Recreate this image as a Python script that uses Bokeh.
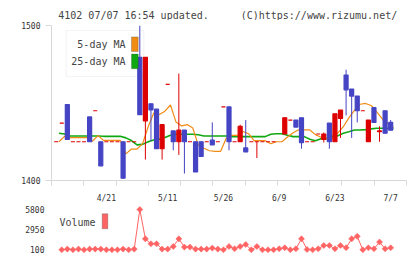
import numpy as np
from bokeh.plotting import figure
from bokeh.models import Range1d, FixedTicker, Label, BoxAnnotation, ColumnDataSource
from bokeh.layouts import column
from bokeh.embed import file_html
from bokeh.resources import INLINE
from bokeh.core.properties import value

nan = float("nan")

# Daily prices, oldest first (one row per trading day)
opens = [1425, 1437, 1449, 1425, 1425, 1425, 1441, 1445, 1425, 1425,
         1425, 1425, 1425, 1425, 1425, 1479.5, 1438.5, 1449.5, 1446, 1420.5,
         1462, 1432, 1425, 1432.5, 1425, 1425, 1425, 1425, 1426, 1425,
         1447.5, 1447.5, 1425, 1425, 1421, 1425, 1425, 1425, 1425, 1425,
         nan, 1430, 1439, 1439, 1440.5, 1425, 1425, 1430, 1426.5, 1437,
         1425, 1440, 1468, 1459, 1454.5, 1445, 1425, 1447, 1431.5, 1445,
         1437.5]
highs = [1425, 1437, 1449, 1425, 1425, 1425, 1441, 1445, 1425, 1425,
         1425, 1425, 1425, 1425, 1425, 1500, 1479.5, 1449.5, 1446, 1436,
         1462, 1432, 1469, 1432.5, 1425, 1425, 1425, 1425, 1437.5, 1425,
         1447.5, 1447.5, 1425, 1436, 1439, 1425, 1425, 1425, 1425, 1425,
         nan, 1440.5, 1439, 1439, 1440.5, 1425, 1425, 1430, 1431, 1437,
         1443, 1445.5, 1471.5, 1459, 1454.5, 1445, 1439, 1447, 1435, 1445,
         1439]
lows = [1425, 1437, 1426.5, 1425, 1425, 1425, 1425, 1445, 1409.5, 1425,
        1425, 1425, 1401.5, 1425, 1425, 1442.5, 1413.5, 1425.5, 1420.5, 1413.5,
        1462, 1419.5, 1416.5, 1404.5, 1425, 1405.5, 1415.5, 1425, 1423, 1425,
        1447.5, 1419.5, 1425, 1425, 1418.5, 1425, 1414.5, 1425, 1425, 1425,
        nan, 1430, 1439, 1434.5, 1420.5, 1425, 1425, 1430, 1424.5, 1420.5,
        1425, 1427.5, 1442, 1427.5, 1437.5, 1445, 1425, 1437.5, 1425, 1430.5,
        1432.5]
closes = [1425, 1437, 1426.5, 1425, 1425, 1425, 1425, 1445, 1409.5, 1425,
          1425, 1425, 1401.5, 1425, 1425, 1442.5, 1479.5, 1445.5, 1420.5, 1436,
          1462, 1425, 1432.5, 1425, 1425, 1405.5, 1415.5, 1425, 1423, 1425,
          1447.5, 1425, 1425, 1435, 1418.5, 1425, 1425, 1425, 1425, 1425,
          nan, 1440.5, 1439, 1434.5, 1424.5, 1425, 1425, 1430, 1430, 1425,
          1443, 1445.5, 1458.5, 1454.5, 1445, 1445, 1439, 1437.5, 1432, 1430.5,
          1432.5]

# Moving averages as plotted
ma5 = [1425, 1428.5, 1427.7, 1427.7, 1427.7, 1427.7, 1425.3, 1429.0, 1425.9, 1425.9,
       1425.9, 1425.9, 1417.2, 1420.3, 1420.3, 1423.8, 1434.7, 1443.5, 1442.6, 1444.7,
       1448.7, 1437.7, 1435.2, 1436.1, 1433.9, 1422.7, 1420.8, 1419.2, 1418.8, 1418.8,
       1427.2, 1429.1, 1429.1, 1431.6, 1430.2, 1425.7, 1425.7, 1425.7, 1423.7, 1425.0,
       1425.0, 1428.1, 1430.8, 1432.7, 1432.6, 1432.6, 1429.6, 1427.9, 1427.0, 1427.1,
       1430.6, 1434.7, 1440.4, 1445.2, 1449.2, 1449.7, 1448.4, 1444.2, 1439.7, 1436.8,
       1434.2]
ma25 = [1430.5, 1430.0, 1428.7, 1428.7, 1428.7, 1428.7, 1428.7, 1428.7, 1428.5, 1428.5,
        1428.5, 1428.5, 1427.5, 1425.8, 1423.0, 1423.3, 1425.0, 1426.2, 1426.6, 1427.7,
        1429.2, 1429.8, 1429.8, 1429.8, 1429.8, 1429.5, 1428.7, 1428.7, 1428.7, 1428.7,
        1428.7, 1428.3, 1428.3, 1428.3, 1428.3, 1428.3, 1428.3, 1428.3, 1429.8, 1430.2,
        1430.2, 1429.2, 1428.3, 1428.3, 1428.3, 1426.6, 1425.6, 1427.0, 1427.0, 1428.6,
        1428.8, 1430.5, 1431.5, 1432.6, 1432.6, 1432.8, 1433.3, 1433.7, 1433.7, 1433.7,
        1433.7]

# Shares traded (first day not reported)
volume = [nan, 100, 200, 100, 200, 100, 200, 200, 200, 100,
          100, 100, 200, 100, 200, 5800, 1650, 950, 950, 200,
          200, 570, 1650, 480, 480, 200, 200, 200, 340, 200,
          100, 570, 240, 570, 850, 100, 570, 100, 100, 100,
          240, 380, 100, 240, 1650, 150, 100, 240, 710, 710,
          240, 710, 400, 1650, 2000, 100, 380, 240, 1200, 240,
          380]

date_labels = ["4/21", "5/11", "5/26", "6/9", "6/23", "7/7"]
date_index = [9, 20, 30, 40, 50, 60]
price_ticks = [1400, 1500]
volume_ticks = [100, 2950, 5800]
header_left = "4102 07/07 16:54 updated."
header_right = "(C)https://www.rizumu.net/"

FONT = "DejaVu Sans Mono"
BLUE = "#4444c4"
RED = "#dd0000"
ORANGE = "#f08c14"
GREEN = "#10a810"
VOLC = "#ff6464"
AXIS = "#d8d8d8"
TEXT = "#444444"

W = 420
LEFT, RIGHT = 51, 14
HEAD_H = 20                      # header strip height
TOP, FRAME_H, BOTTOM = 25, 159, 21
FRAME_W = W - LEFT - RIGHT

n = len(closes)
idx = np.arange(n)
xr = Range1d(-0.84, -0.84 + FRAME_W / 5.575)
yr = Range1d(min(price_ticks), max(price_ticks))


def px_x(px):
    return xr.start + (px - LEFT) / FRAME_W * (xr.end - xr.start)


def px_y(py):
    return yr.end - (py - TOP) / FRAME_H * (yr.end - yr.start)


# ---- header strip: plain pixel coordinates, y downward
ph = figure(width=W, height=HEAD_H, x_range=Range1d(0, W), y_range=Range1d(HEAD_H, 0),
            title=None, output_backend="svg", toolbar_location=None,
            x_axis_location=None, y_axis_location=None,
            min_border=0, outline_line_color=None,
            background_fill_color="white", border_fill_color="white")
ph.xgrid.visible = False
ph.ygrid.visible = False
ph.text(x=[8], y=[14.5], text=[header_left], text_baseline="alphabetic",
        text_font=value(FONT), text_font_size="10px", text_color=TEXT)
ph.text(x=[409], y=[14.5], text=[header_right], text_align="right",
        text_baseline="alphabetic", text_font=value(FONT), text_font_size="10px",
        text_color=TEXT)

# ---- price panel
o = np.array(opens, float)
c = np.array(closes, float)
colors = [BLUE if cc < oo else RED for oo, cc in zip(o, c)]
src = ColumnDataSource(dict(
    x=idx, high=highs, low=lows,
    top=np.fmax(o, c), bottom=np.fmin(o, c), color=colors,
))

p = figure(width=W, height=TOP - HEAD_H + FRAME_H + BOTTOM, x_range=xr, y_range=yr,
           title=None, output_backend="svg", toolbar_location=None,
           min_border_left=LEFT, min_border_right=RIGHT,
           min_border_top=TOP - HEAD_H, min_border_bottom=BOTTOM,
           outline_line_color=None, background_fill_color="white",
           border_fill_color="white")
p.xgrid.visible = False
p.ygrid.visible = False

p.yaxis.ticker = FixedTicker(ticks=price_ticks)
p.yaxis.axis_line_color = AXIS
p.yaxis.major_tick_line_color = AXIS
p.yaxis.major_tick_out = 6
p.yaxis.major_tick_in = 0
p.yaxis.minor_tick_line_color = None
p.yaxis.major_label_standoff = 5
p.yaxis.major_label_text_font = FONT
p.yaxis.major_label_text_font_size = "8px"
p.yaxis.major_label_text_color = "#333333"

# date axis: labels on trading days, short marks on even divisions
divisions = list(np.linspace(xr.start + 1e-6, xr.end - 1e-6, 12))
p.xaxis.ticker = FixedTicker(ticks=date_index, minor_ticks=divisions)
p.xaxis.major_label_overrides = {i: s for i, s in zip(date_index, date_labels)}
p.xaxis.axis_line_color = AXIS
p.xaxis.major_tick_line_color = None
p.xaxis.major_tick_out = 0
p.xaxis.major_tick_in = 0
p.xaxis.minor_tick_line_color = AXIS
p.xaxis.minor_tick_out = 5
p.xaxis.minor_tick_in = 0
p.xaxis.major_label_standoff = 8
p.xaxis.major_label_text_font = FONT
p.xaxis.major_label_text_font_size = "8px"
p.xaxis.major_label_text_color = "#333333"

# legend frame (behind the candles)
p.add_layout(BoxAnnotation(left=px_x(65.7), right=px_x(143.3), top=px_y(30), bottom=px_y(77.3),
                           fill_alpha=0, line_color=AXIS, line_width=1, level="underlay"))

# moving averages
p.line(idx + 0.5, ma25, color=GREEN, line_width=1.6)
p.line(idx + 0.5, ma5, color=ORANGE, line_width=1.2)

# candlesticks
p.segment(x0="x", y0="low", x1="x", y1="high", color="color", line_width=1, source=src)
p.vbar(x="x", width=0.72, top="top", bottom="bottom", fill_color="color",
       line_color="color", line_width=1.2, source=src)

# legend entries
for text, py, col in [("5-day MA", 44.2, ORANGE), ("25-day MA", 61.8, GREEN)]:
    p.add_layout(Label(x=px_x(125), y=px_y(py), text=text, text_align="right",
                       text_baseline="middle", text_font=FONT, text_font_size="10px",
                       text_color=TEXT))
    p.add_layout(BoxAnnotation(left=px_x(131), right=px_x(137.7), top=px_y(py - 7.5),
                               bottom=px_y(py + 7.5), fill_color=col, fill_alpha=1,
                               line_color="#444444", line_width=1))

# ---- volume panel
VH, VB = 50, 4
v_top = HEAD_H + p.height          # pixel row where the volume strip starts
vtop_px, vbot_px = 209.0, 249.3   # pixel rows of 5800 and 100
scale = (vbot_px - vtop_px) / (max(volume_ticks) - min(volume_ticks))
vr = Range1d(min(volume_ticks) - (v_top + VH - vbot_px) / scale,
             max(volume_ticks) + (vtop_px - v_top) / scale)

pv = figure(width=W, height=VH + VB, x_range=xr, y_range=vr,
            title=None, output_backend="svg", toolbar_location=None, x_axis_location=None,
            min_border_left=LEFT, min_border_right=RIGHT,
            min_border_top=0, min_border_bottom=VB,
            outline_line_color=None, background_fill_color="white",
            border_fill_color="white")
pv.xgrid.visible = False
pv.ygrid.visible = False
pv.yaxis.ticker = FixedTicker(ticks=volume_ticks)
pv.yaxis.axis_line_color = None
pv.yaxis.major_tick_line_color = None
pv.yaxis.minor_tick_line_color = None
pv.yaxis.major_tick_out = 0
pv.yaxis.major_tick_in = 0
pv.yaxis.major_label_standoff = 7
pv.yaxis.major_label_text_font = FONT
pv.yaxis.major_label_text_font_size = "8px"
pv.yaxis.major_label_text_color = "#333333"

pv.line(idx, volume, color=VOLC, line_width=1)
pv.scatter(idx, volume, marker="square", angle=np.pi / 4, size=4.3,
           fill_color=VOLC, line_color=VOLC, line_width=0.5)


def vpx_y(py):
    return vr.end - (py - v_top) / VH * (vr.end - vr.start)


pv.add_layout(Label(x=px_x(95), y=vpx_y(222.3), text="Volume", text_align="right",
                    text_baseline="middle", text_font=FONT, text_font_size="10px",
                    text_color=TEXT))
pv.add_layout(BoxAnnotation(left=px_x(101.7), right=px_x(107.3), top=vpx_y(213.3),
                            bottom=vpx_y(228.3), fill_color=VOLC, fill_alpha=1,
                            line_color="#444444", line_width=1))

layout = column(ph, p, pv, spacing=0)
open("out.html", "w").write(file_html(layout, INLINE))
